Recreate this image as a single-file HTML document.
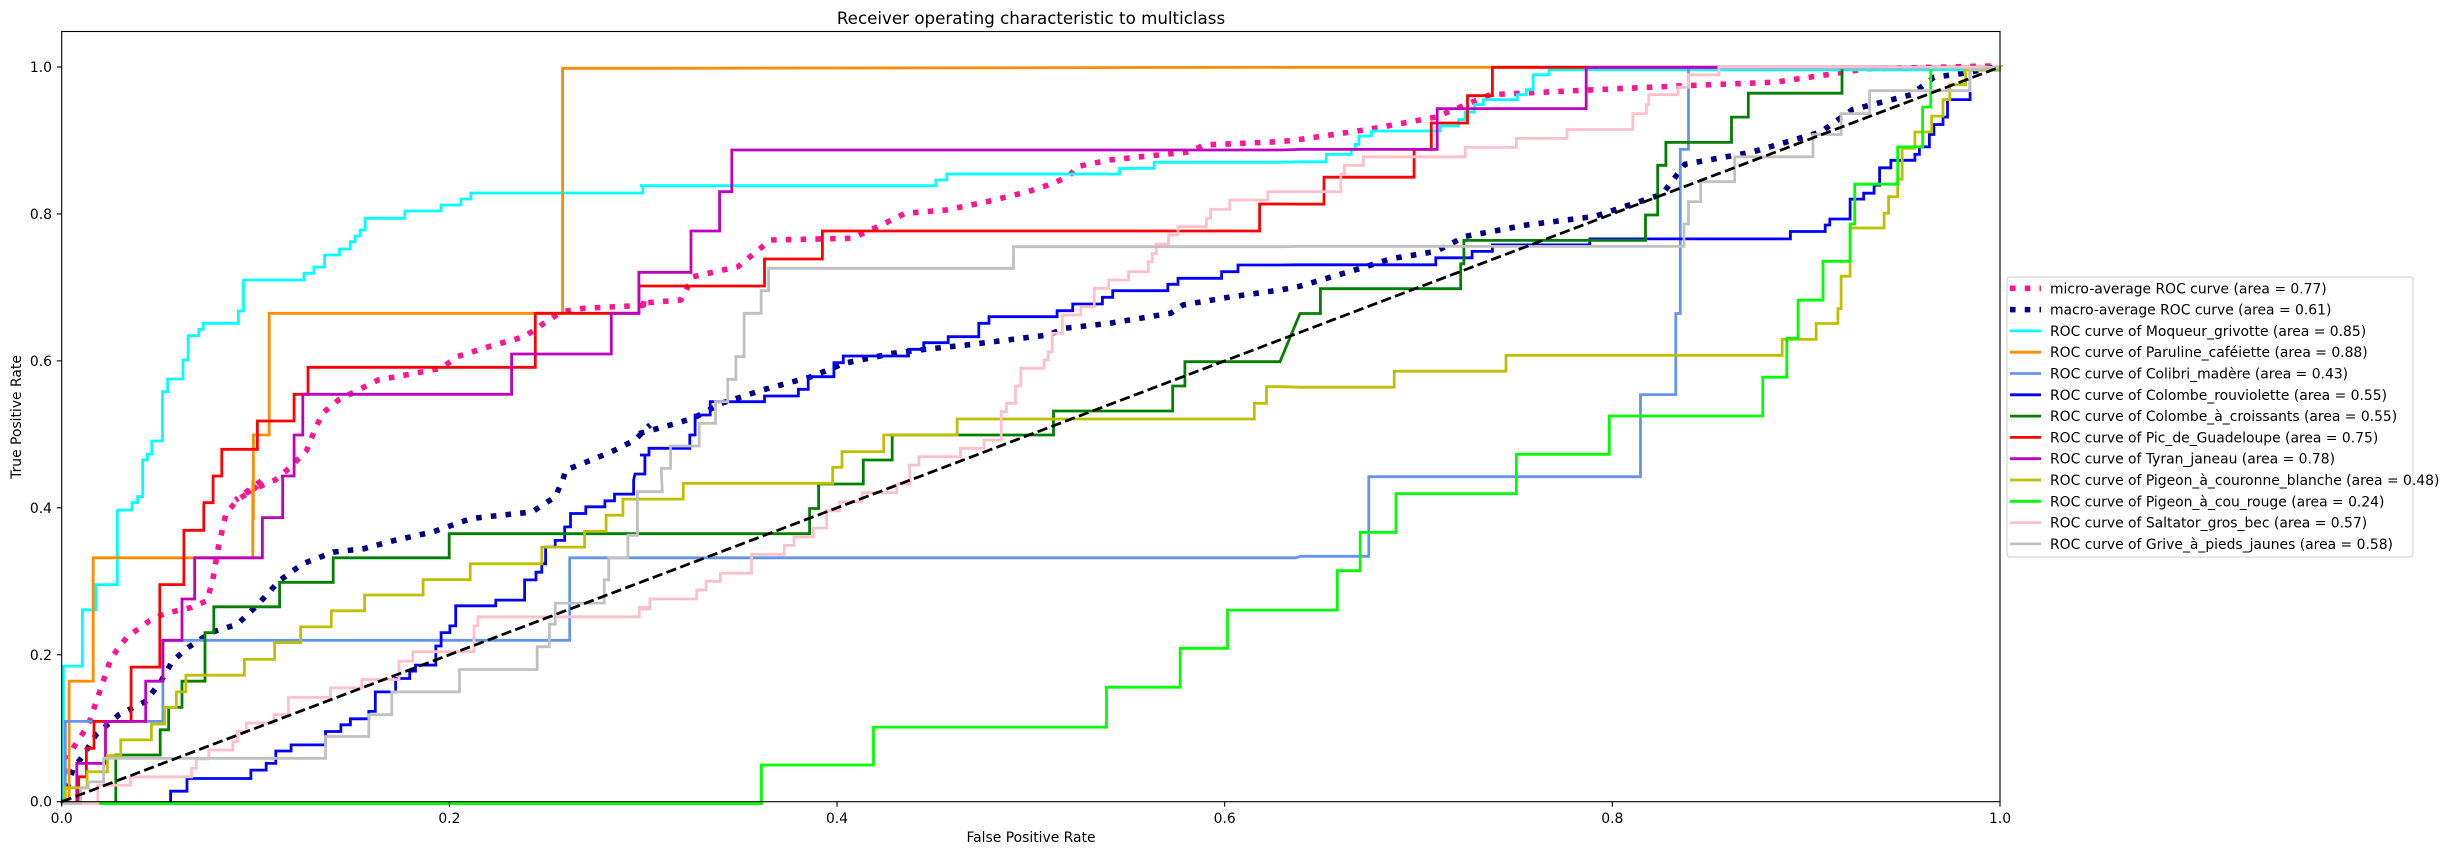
<!DOCTYPE html>
<html><head><meta charset="utf-8"><style>
html,body{margin:0;padding:0;background:#fff;}
svg{display:block;font-family:"DejaVu Sans","Liberation Sans",sans-serif;}
</style></head><body>
<svg id="s" width="2455" height="855" xmlns="http://www.w3.org/2000/svg">
<rect width="2455" height="855" fill="#fff"/>
<g id="curves"></g>
<rect x="61.7" y="31.5" width="1938.3" height="770.2" fill="none" stroke="#000" stroke-width="1.1"/>
<g id="ticks" font-size="13.9" fill="#000"></g>
<text x="1031" y="24" font-size="16.7" text-anchor="middle">Receiver operating characteristic to multiclass</text>
<text x="1031" y="842" font-size="13.9" text-anchor="middle">False Positive Rate</text>
<text transform="translate(21,417) rotate(-90)" font-size="13.9" text-anchor="middle">True Positive Rate</text>
<rect x="2007" y="277" width="406" height="280" rx="3" fill="#fff" fill-opacity="0.8" stroke="#ccc" stroke-width="1"/>
<g id="legend" font-size="13.9"></g>
</svg>
<script>
const NS="http://www.w3.org/2000/svg";
const Z={
 Z0:[p=>61.7+p*1938.3,p=>801.7-p*734.7],
 Z1:[d=>30+d/2.529,d=>20+d/3],
 Z2:[d=>640+d/2.45,d=>20+d/3],
 Z5:[d=>50+d/2.613,d=>480+d/2.982],
 Z6:[d=>640+d/2.24,d=>480+d/2.982],
 Z7:[d=>1300+d/2.2085,d=>30+d/2.0103]
};
function parse(segs){
 let pts=[];
 for(const [z,s] of segs){
  const [fx,fy]=Z[z]; let x=0,y=0;
  const toks=s.match(/[MLVH]|-?[\d.]+/g); let i=0;
  while(i<toks.length){
   const c=toks[i++];
   if(c==='M'||c==='L'){x=+toks[i++];y=+toks[i++];}
   else if(c==='H'){x=+toks[i++];}
   else if(c==='V'){y=+toks[i++];}
   pts.push([fx(x),fy(y)]);
  }
 }
 return pts.map(p=>p[0].toFixed(1)+','+p[1].toFixed(1)).join(' ');
}
const END=['Z0','M1 1'];
const curves=[
 {c:'#FF1493',w:5.56,d:'5.56 9.2',s:[['Z5','M35 965 L40 820 L60 800 L100 730 L130 630 L160 530 L200 470 L260 420 L300 398 L370 380 L410 360 L425 300 L440 200 L460 100 L490 60 L540 20 L555 0'],['Z1','M520 1440 L560 1410 L620 1380 L660 1340 L700 1290 L720 1230 L740 1180 L780 1140 L830 1110 L880 1080 L950 1065 L1040 1045 L1080 1010 L1160 980 L1250 950 L1300 910 L1345 875 L1400 865 L1568 855'],['Z2','M0 850 L100 840 L130 770 L240 740 L280 700 L320 660 L520 655 L600 610 L650 580 L750 570 L850 545 L950 515 L1000 495 L1050 470 L1070 440 L1150 420 L1350 395 L1380 375 L1568 365'],['Z7','M0 220 L150 200 L300 175 L420 130 L700 118 L850 112 L1050 105 L1200 85 L1250 78 L1545 72']]},
 {c:'#000080',w:5.56,d:'5.56 9.2',s:[['Z5','M35 965 L60 860 L85 825 L120 760 L180 700 L250 660 L290 600 L320 540 L360 500 L420 455 L490 430 L540 375 L600 300 L660 250 L740 215 L820 205 L900 180 L1000 155 L1100 115 L1180 105 L1260 95 L1320 50 L1340 0'],['Z1','M1355 1350 L1420 1320 L1480 1290 L1530 1260 L1568 1215'],['Z2','M0 1240 L60 1220 L130 1195 L200 1150 L300 1110 L420 1070 L500 1030 L620 1000 L700 988 L800 975 L900 960 L1000 945 L1040 925 L1150 910 L1300 880 L1330 855 L1450 830 L1568 810'],['Z7','M0 515 L130 480 L200 460 L300 445 L365 415 L500 392 L650 375 L800 330 L850 270 L1000 245 L1150 205 L1220 160 L1350 130 L1400 95 L1480 85 L1545 72']]},
 {c:'#00FFFF',s:[['Z5','M30 965 H35 V555 H85 V387 H120 V312 H176 V90'],['Z1','M220 1470 H258 V1448 H272 V1430 H285 V1320 H297 V1302 H308 V1263 H335 V1115 H348 V1077 H387 V1020 H400 V947 H427 V928 H438 V910 H527 V873 H540 V780 H693 V760 H718 V741 H745 V705 H783 V687 H810 V665 H822 V648 H835 V630 H848 V595 H948 V573 H1040 V555 H1090 V537 H1115 V519 H1550 V497 H1568'],['Z2','M0 497 H725 V480 H752 V462 H1175 V445 H1260 V427 H1568'],['Z7','M0 265 H58 V250 H113 V240 H122 V230 H130 V213 H158 V203 H310 V193 H350 V180 H365 V165 H385 V150 H405 V140 H480 V130 H500 V120 H515 V90 H550 V80 H1545']]},
 {c:'#FF8C00',s:[['Z5','M30 965 H50 V600 H113 V232 H530 V0'],['Z1','M565 1500 V1245 H605 V880 H1347 V145 H1568'],['Z7','M0 75 H1545']]},
 {c:'#6495ED',s:[['Z5','M30 965 H40 V720 H295 V478 H1358 V232 H1568'],['Z6','M0 232 H1470'],['Z7','M0 1058 H152 V898 H752 V733 H830 V570 H840 V240 H858 V75 H1545']]},
 {c:'#0000FF',s:[['Z5','M30 965 H315 V928 H358 V890 H525 V865 H565 V845 H590 V808 H630 V790 H720 V750 H760 V730 H785 V712 H833 V690 H850 V632 H903 V592 H940 V570 H955 V552 H1008 V495 H1022 V455 H1045 V435 H1060 V375 H1165 V358 H1240 V298 H1270 V275 H1285 V250 H1295 V200 H1320 V180 H1345 V140 H1360 V100 H1400 V80 H1450 V62 H1475 V42 H1525 V0'],['Z1','M1530 1362 H1555 V1305 H1568'],['Z2','M0 1305 H22 V1285 H122 V1245 H135 V1185 H172 V1145 H305 V1128 H388 V1108 H412 V1070 H475 V1028 H498 V1008 H658 V988 H695 V968 H755 V950 H830 V910 H855 V890 H1022 V872 H1060 V852 H1133 V832 H1158 V812 H1293 V793 H1318 V775 H1425 V755 H1465 V735 H1568'],['Z7','M0 472 H300 V458 H380 V445 H425 V432 H640 V420 H1083 V405 H1160 V392 H1170 V380 H1215 V340 H1245 V328 H1268 V312 H1280 V277 H1305 V262 H1358 V250 H1368 V235 H1390 V210 H1400 V190 H1420 V175 H1430 V140 H1480 V128 V80 H1545 V72']]},
 {c:'#008000',s:[['Z5','M30 965 H172 V820 H288 V745 H310 V678 H345 V600 H405 V455 H428 V378 H600 V305 H740 V232 H1043 V160 H1568'],['Z6','M0 160 H380 V85 H400 V12'],['Z2','M437 1392 H547 V1320 H618 V1245 H1013 V1173 H1305 V1098 H1335 V1025 H1568'],['Z7','M0 570 H45 V520 H355 V470 H362 V423 H763 V372 H790 V272 H808 V226 H953 V175 H990 V127 H1197 V75 H1545']]},
 {c:'#FF0000',s:[['Z5','M30 965 H75 V885 H95 V800 H115 V720 H212 V558 H287 V312 H350 V150 H402 V70'],['Z1','M440 1448 H463 V1368 H485 V1288 H575 V1203 H668 V1123 H703 V1042 H1278 V880 H1540 V798 H1568'],['Z2','M0 798 H305 V717 H447 V633 H1518 V552 H1568'],['Z7','M0 350 H53 V296 H252 V240 H290 V187 H370 V132 H425 V75 H1545']]},
 {c:'#BF00BF',s:[['Z5','M30 965 H70 V845 H145 V720 H250 V600 H295 V478 H345 V355 H378 V232 H555 V112 H608 V0'],['Z1','M638 1368 H668 V1245 H690 V1123 H1218 V1002 H1470 V880 H1540 V757 H1568'],['Z2','M0 757 H125 V633 H195 V515 H225 V390 H1568'],['Z7','M0 240 H303 V158 H632 V75 H1545']]},
 {c:'#BFBF00',s:[['Z5','M30 965 H40 V918 H97 V870 H150 V822 H185 V775 H265 V728 H300 V678 H330 V632 H355 V582 H508 V535 H587 V485 H655 V438 H735 V390 H822 V343 H975 V297 H1098 V250 H1285 V200 H1397 V153 H1453 V105 H1497 V57 H1568'],['Z6','M0 57 H97 V10'],['Z2','M107 1390 H472 V1342 H495 V1295 H597 V1245 H777 V1197 H1505 V1150 H1535 V1100 H1568'],['Z7','M0 718 H208 V686 H455 V654 H1065 V622 H1140 V590 H1188 V560 H1195 V495 H1215 V398 H1290 V368 H1300 V335 H1320 V300 H1330 V238 H1358 V205 H1395 V173 H1420 V140 H1435 V110 H1470 V80 H1545 V72']]},
 {c:'#00FF00',s:[['Z5','M30 965 H1568'],['Z6','M0 965 H272 V850 H523 V737 H1045 V618 H1210 V502 H1316 V388 H1562 V270'],['Z7','M80 1087 H133 V1010 H212 V932 H478 V853 H683 V776 H1022 V698 H1075 V620 H1100 V543 H1155 V465 H1215 V390 H1225 V310 H1320 V235 H1375 V155 H1393 V75 H1545']]},
 {c:'#FFC0CB',s:[['Z5','M30 965 H125 V910 H210 V885 H370 V860 H382 V832 H415 V805 H478 V780 H490 V750 H513 V725 H585 V700 H623 V648 H733 V620 H815 V595 H912 V540 H948 V512 H1108 V435 H1118 V408 H1540 V380 H1568'],['Z6','M0 385 H22 V355 H127 V328 H148 V302 H180 V278 H250 V222 H323 V195 H345 V170 H388 V143 H418 V92 H447 V65 H498 V38 H575 V12 H605 V0'],['Z2','M660 1335 H683 V1310 H785 V1285 H843 V1260 H885 V1175 H898 V1150 H920 V1098 H933 V1045 H990 V1020 H1000 V995 H1010 V940 H1035 V885 H1080 V860 H1113 V805 H1148 V780 H1197 V755 H1245 V725 H1255 V700 H1265 V672 H1295 V645 H1318 V620 H1388 V595 H1398 V568 H1445 V540 H1538 V515 H1568'],['Z7','M0 325 H90 V290 H98 V272 H140 V255 H365 V236 H478 V218 H590 V200 H735 V168 H765 V150 H770 V130 H835 V115 H858 V90 H925 V75 H1545']]},
 {c:'#C0C0C0',s:[['Z5','M30 965 H80 V918 H100 V900 H140 V830 H720 V765 H833 V700 H893 V632 H1070 V565 H1273 V497 H1305 V430 H1320 V367 H1448 V298 H1460 V232 H1510 V165 H1535 V35 H1568'],['Z6','M0 35 H50'],['Z2','M52 1345 H75 V1278 H145 V1210 H185 V1145 H215 V1078 H235 V1010 H255 V880 H297 V812 H315 V745 H915 V680 H1568'],['Z7','M0 435 H848 V390 H858 V345 H885 V305 H960 V255 H1133 V210 H1195 V168 H1258 V122 H1480 V80']]}
];
const g=document.getElementById('curves');
for(const cv of curves){
 const pl=document.createElementNS(NS,'polyline');
 pl.setAttribute('points',parse(cv.s.concat([END])));
 pl.setAttribute('fill','none');pl.setAttribute('stroke',cv.c);
 pl.setAttribute('stroke-width',cv.w||2.78);
 if(cv.d){pl.setAttribute('stroke-dasharray',cv.d);}
 g.appendChild(pl);
}
const dg=document.createElementNS(NS,'line');
dg.setAttribute('x1',61.7);dg.setAttribute('y1',801.7);dg.setAttribute('x2',2000);dg.setAttribute('y2',67);
dg.setAttribute('stroke','#000');dg.setAttribute('stroke-width',2.78);dg.setAttribute('stroke-dasharray','10.3 4.4');
g.appendChild(dg);
const tg=document.getElementById('ticks');
let h='';
for(let i=0;i<=5;i++){
 const v=(i*0.2).toFixed(1);
 const x=61.7+i*0.2*1938.3, y=801.7-i*0.2*734.7;
 h+=`<line x1="${x}" y1="801.7" x2="${x}" y2="806.6" stroke="#000" stroke-width="1.1"/>`;
 h+=`<text x="${x}" y="823" text-anchor="middle">${v}</text>`;
 h+=`<line x1="56.8" y1="${y}" x2="61.7" y2="${y}" stroke="#000" stroke-width="1.1"/>`;
 h+=`<text x="52" y="${y+5}" text-anchor="end">${v}</text>`;
}
tg.innerHTML=h;
const names=[['#FF1493','micro-average ROC curve (area = 0.77)',1],['#000080','macro-average ROC curve (area = 0.61)',1],
['#00FFFF','ROC curve of Moqueur_grivotte (area = 0.85)'],['#FF8C00','ROC curve of Paruline_caféiette (area = 0.88)'],
['#6495ED','ROC curve of Colibri_madère (area = 0.43)'],['#0000FF','ROC curve of Colombe_rouviolette (area = 0.55)'],
['#008000','ROC curve of Colombe_à_croissants (area = 0.55)'],['#FF0000','ROC curve of Pic_de_Guadeloupe (area = 0.75)'],
['#BF00BF','ROC curve of Tyran_janeau (area = 0.78)'],['#BFBF00','ROC curve of Pigeon_à_couronne_blanche (area = 0.48)'],
['#00FF00','ROC curve of Pigeon_à_cou_rouge (area = 0.24)'],['#FFC0CB','ROC curve of Saltator_gros_bec (area = 0.57)'],
['#C0C0C0','ROC curve of Grive_à_pieds_jaunes (area = 0.58)']];
let lh='';
names.forEach((n,i)=>{
 const y=288.3+i*21.3;
 if(n[2]) lh+=`<line x1="2010" y1="${y}" x2="2041" y2="${y}" stroke="${n[0]}" stroke-width="5.56" stroke-dasharray="5.56 9.2"/>`;
 else lh+=`<line x1="2010" y1="${y}" x2="2041" y2="${y}" stroke="${n[0]}" stroke-width="2.78"/>`;
 lh+=`<text x="2050" y="${y+5}">${n[1]}</text>`;
});
document.getElementById('legend').innerHTML=lh;
</script>
</body></html>
